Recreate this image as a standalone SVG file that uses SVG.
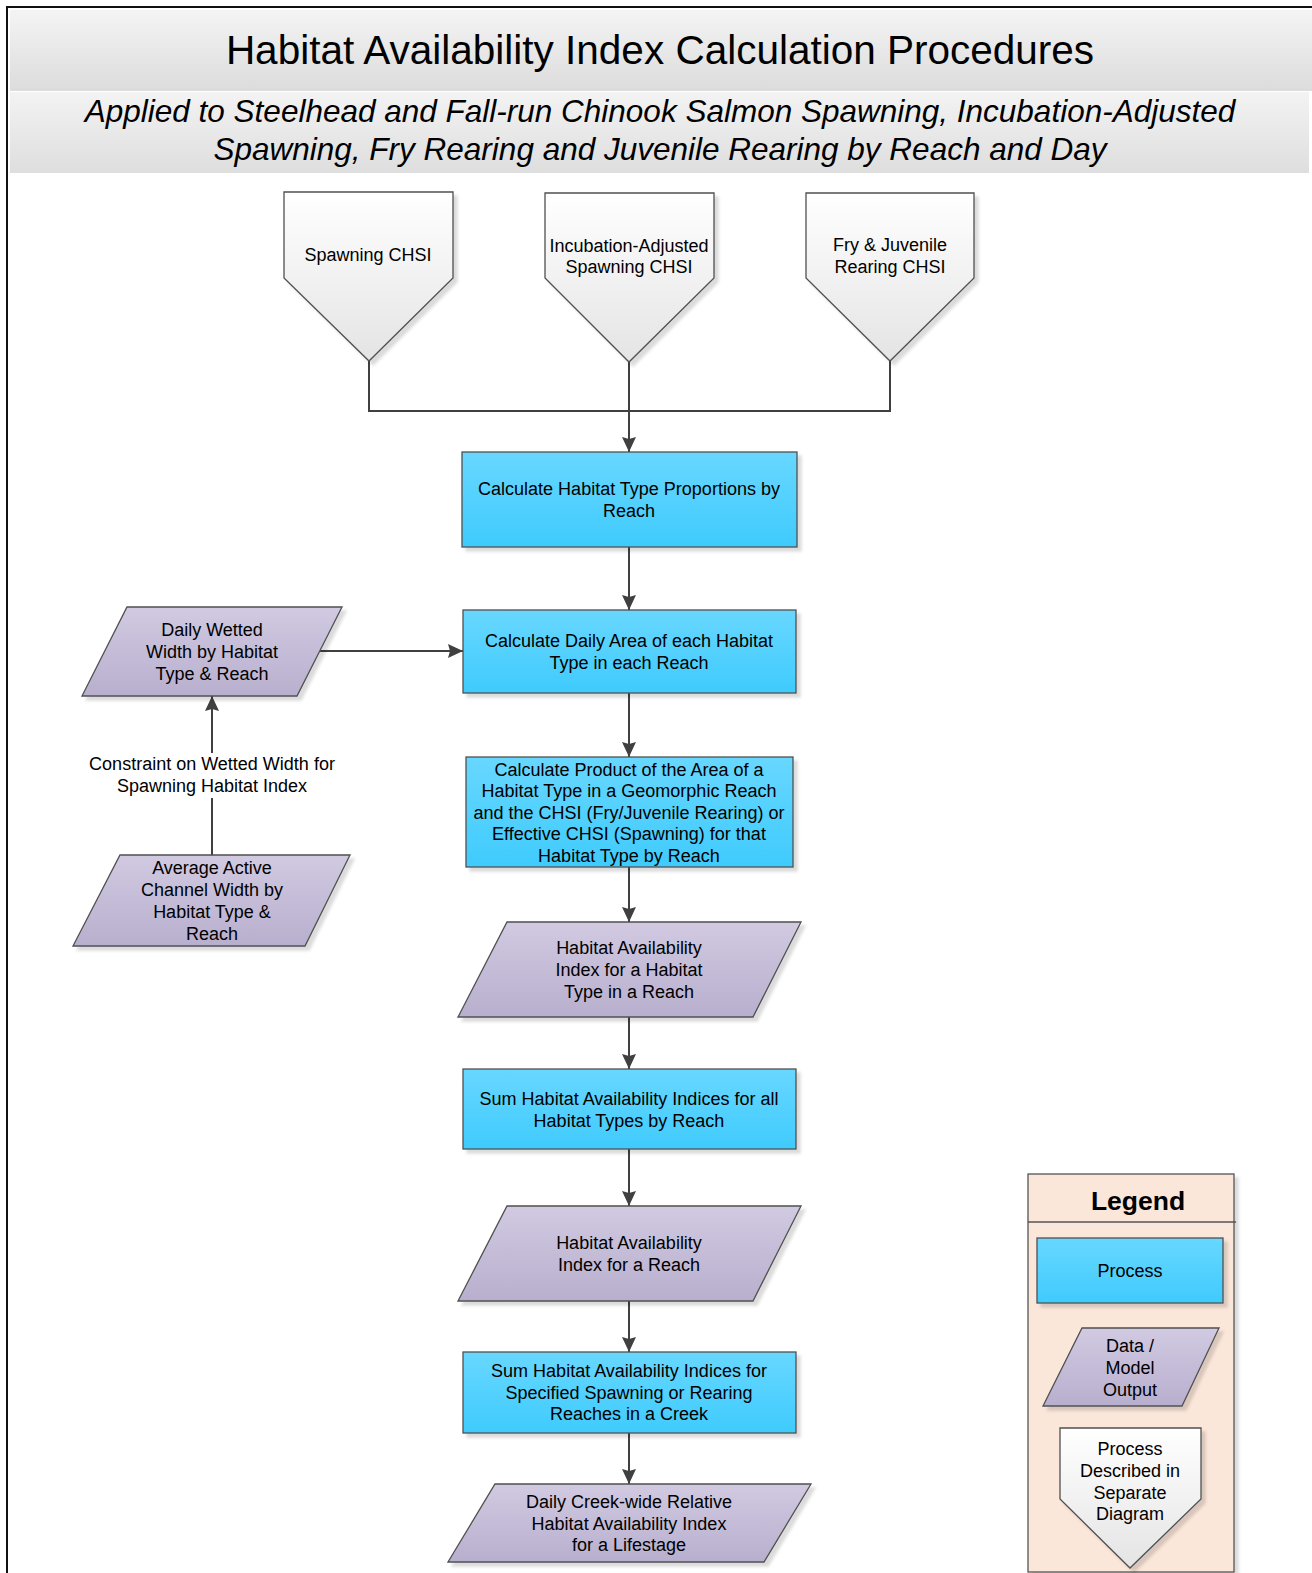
<svg xmlns="http://www.w3.org/2000/svg" width="1312" height="1573" viewBox="0 0 1312 1573">
<style>
.t{font-family:"Liberation Sans",Arial,sans-serif;font-size:18px;fill:#000;text-anchor:middle}
.proc{fill:url(#procGrad);stroke:#505050;stroke-width:1.3}
.data{fill:url(#dataGrad);stroke:#505050;stroke-width:1.3}
.off{fill:url(#offGrad);stroke:#505050;stroke-width:1.3}
.sh{filter:url(#shadow)}
.con{fill:none;stroke:#404040;stroke-width:2}
.arr{marker-end:url(#arrow)}
</style>
<defs>
<linearGradient id="procGrad" x1="0" y1="0" x2="0" y2="1"><stop offset="0" stop-color="#68d7ff"/><stop offset="1" stop-color="#3fcbfd"/></linearGradient>
<linearGradient id="dataGrad" x1="0" y1="0" x2="0" y2="1"><stop offset="0" stop-color="#d1cae1"/><stop offset="1" stop-color="#b8afce"/></linearGradient>
<linearGradient id="offGrad" x1="0" y1="0" x2="0" y2="1"><stop offset="0" stop-color="#ffffff"/><stop offset="1" stop-color="#e4e4e4"/></linearGradient>
<linearGradient id="titleGrad" x1="0" y1="0" x2="0" y2="1"><stop offset="0" stop-color="#f4f4f4"/><stop offset="1" stop-color="#dcdcdc"/></linearGradient>
<linearGradient id="subGrad" x1="0" y1="0" x2="0" y2="1"><stop offset="0" stop-color="#f3f3f3"/><stop offset="1" stop-color="#dedede"/></linearGradient>
<filter id="shadow" x="-10%" y="-10%" width="130%" height="130%"><feDropShadow dx="4" dy="4" stdDeviation="1.5" flood-color="#000" flood-opacity="0.14"/></filter>
<marker id="arrow" viewBox="0 0 15 14" refX="15" refY="7" markerWidth="15" markerHeight="14" markerUnits="userSpaceOnUse" orient="auto"><path d="M0,0 L15,7 L0,14 L2,7 z" fill="#404040"/></marker>
</defs>

<rect x="0" y="0" width="1312" height="1573" fill="#ffffff"/>
<rect x="7" y="7" width="1330" height="1600" fill="none" stroke="#111" stroke-width="2"/>

<g id="title">
<rect x="10" y="10" width="1302" height="81" fill="url(#titleGrad)"/>
<text x="660" y="64" style="font-family:'Liberation Sans',Arial,sans-serif;font-size:40.5px;text-anchor:middle;fill:#000">Habitat Availability Index Calculation Procedures</text>
</g>
<g id="subtitle">
<rect x="10" y="92" width="1299" height="81" fill="url(#subGrad)"/>
<text style="font-family:'Liberation Sans',Arial,sans-serif;font-size:31.5px;font-style:italic;text-anchor:middle;fill:#000"><tspan x="660" y="122">Applied to Steelhead and Fall-run Chinook Salmon Spawning, Incubation-Adjusted</tspan><tspan x="660" y="160">Spawning, Fry Rearing and Juvenile Rearing by Reach and Day</tspan></text>
</g>

<g id="connectors">
<polyline class="con" points="369,361 369,411 890,411 890,361"/>
<line class="con arr" x1="629" y1="362" x2="629" y2="452"/>
<line class="con arr" x1="629" y1="547" x2="629" y2="610"/>
<line class="con arr" x1="629" y1="693" x2="629" y2="757"/>
<line class="con arr" x1="629" y1="867" x2="629" y2="922"/>
<line class="con arr" x1="629" y1="1017" x2="629" y2="1069"/>
<line class="con arr" x1="629" y1="1149" x2="629" y2="1206"/>
<line class="con arr" x1="629" y1="1301" x2="629" y2="1352"/>
<line class="con arr" x1="629" y1="1433" x2="629" y2="1484"/>
<line class="con arr" x1="320" y1="651" x2="463" y2="651"/>
<line class="con" x1="212" y1="855" x2="212" y2="798"/>
<line class="con arr" x1="212" y1="753" x2="212" y2="696"/>
<text class="t"><tspan x="212" y="770">Constraint on Wetted Width for</tspan><tspan x="212" y="792">Spawning Habitat Index</tspan></text>
</g>

<g id="spawning-chsi">
<polygon class="off sh" points="284,192 453,192 453,278 369,361 284,278"/>
<text class="t" x="368" y="261">Spawning CHSI</text>
</g>
<g id="incubation-chsi">
<polygon class="off sh" points="545,193 714,193 714,278 629,362 545,278"/>
<text class="t"><tspan x="629" y="252">Incubation-Adjusted</tspan><tspan x="629" y="273">Spawning CHSI</tspan></text>
</g>
<g id="rearing-chsi">
<polygon class="off sh" points="806,193 974,193 974,278 890,361 806,278"/>
<text class="t"><tspan x="890" y="251">Fry &amp; Juvenile</tspan><tspan x="890" y="273">Rearing CHSI</tspan></text>
</g>

<g id="calc-proportions">
<rect class="proc sh" x="462" y="452" width="335" height="95"/>
<text class="t"><tspan x="629" y="494.5">Calculate Habitat Type Proportions by</tspan><tspan x="629" y="516.5">Reach</tspan></text>
</g>
<g id="calc-area">
<rect class="proc sh" x="463" y="610" width="333" height="83"/>
<text class="t"><tspan x="629" y="646.5">Calculate Daily Area of each Habitat</tspan><tspan x="629" y="668.5">Type in each Reach</tspan></text>
</g>
<g id="calc-product">
<rect class="proc sh" x="466" y="757" width="327" height="110"/>
<text class="t"><tspan x="629" y="775.5">Calculate Product of the Area of a</tspan><tspan x="629" y="797">Habitat Type in a Geomorphic Reach</tspan><tspan x="629" y="818.5">and the CHSI (Fry/Juvenile Rearing) or</tspan><tspan x="629" y="840">Effective CHSI (Spawning) for that</tspan><tspan x="629" y="861.5">Habitat Type by Reach</tspan></text>
</g>
<g id="hai-type">
<polygon class="data sh" points="507,922 801,922 753,1017 458,1017"/>
<text class="t"><tspan x="629" y="953.5">Habitat Availability</tspan><tspan x="629" y="975.5">Index for a Habitat</tspan><tspan x="629" y="997.5">Type in a Reach</tspan></text>
</g>
<g id="sum-types">
<rect class="proc sh" x="463" y="1069" width="333" height="80"/>
<text class="t"><tspan x="629" y="1104.5">Sum Habitat Availability Indices for all</tspan><tspan x="629" y="1126.5">Habitat Types by Reach</tspan></text>
</g>
<g id="hai-reach">
<polygon class="data sh" points="507,1206 801,1206 753,1301 458,1301"/>
<text class="t"><tspan x="629" y="1248.5">Habitat Availability</tspan><tspan x="629" y="1270.5">Index for a Reach</tspan></text>
</g>
<g id="sum-reaches">
<rect class="proc sh" x="463" y="1352" width="333" height="81"/>
<text class="t"><tspan x="629" y="1377">Sum Habitat Availability Indices for</tspan><tspan x="629" y="1399">Specified Spawning or Rearing</tspan><tspan x="629" y="1420">Reaches in a Creek</tspan></text>
</g>
<g id="creek-hai">
<polygon class="data sh" points="495,1484 811,1484 764,1562 448,1562"/>
<text class="t"><tspan x="629" y="1508">Daily Creek-wide Relative</tspan><tspan x="629" y="1529.5">Habitat Availability Index</tspan><tspan x="629" y="1551">for a Lifestage</tspan></text>
</g>

<g id="wetted-width">
<polygon class="data sh" points="127,607 342,607 297,696 82,696"/>
<text class="t"><tspan x="212" y="635.5">Daily Wetted</tspan><tspan x="212" y="657.5">Width by Habitat</tspan><tspan x="212" y="679.5">Type &amp; Reach</tspan></text>
</g>
<g id="active-width">
<polygon class="data sh" points="120,855 350,855 305,946 73,946"/>
<text class="t"><tspan x="212" y="874">Average Active</tspan><tspan x="212" y="896">Channel Width by</tspan><tspan x="212" y="918">Habitat Type &amp;</tspan><tspan x="212" y="940">Reach</tspan></text>
</g>

<g id="legend">
<rect class="sh" x="1028" y="1174" width="206" height="398" fill="#fbe6da" stroke="#555" stroke-width="1.3"/>
<line x1="1028" y1="1222" x2="1236" y2="1222" stroke="#555" stroke-width="1.3"/>
<text x="1138" y="1210" style="font-family:'Liberation Sans',Arial,sans-serif;font-size:26.5px;font-weight:bold;text-anchor:middle;fill:#000">Legend</text>
<rect class="proc sh" x="1037" y="1238" width="186" height="65"/>
<text class="t" x="1130" y="1276.5">Process</text>
<polygon class="data sh" points="1082,1328 1219,1328 1182,1406 1043,1406"/>
<text class="t"><tspan x="1130" y="1351.5">Data /</tspan><tspan x="1130" y="1373.5">Model</tspan><tspan x="1130" y="1395.5">Output</tspan></text>
<polygon class="off sh" points="1060,1428 1201,1428 1201,1499 1130,1568 1060,1499"/>
<text class="t"><tspan x="1130" y="1454.5">Process</tspan><tspan x="1130" y="1476.5">Described in</tspan><tspan x="1130" y="1498.5">Separate</tspan><tspan x="1130" y="1519.5">Diagram</tspan></text>
</g>
</svg>
